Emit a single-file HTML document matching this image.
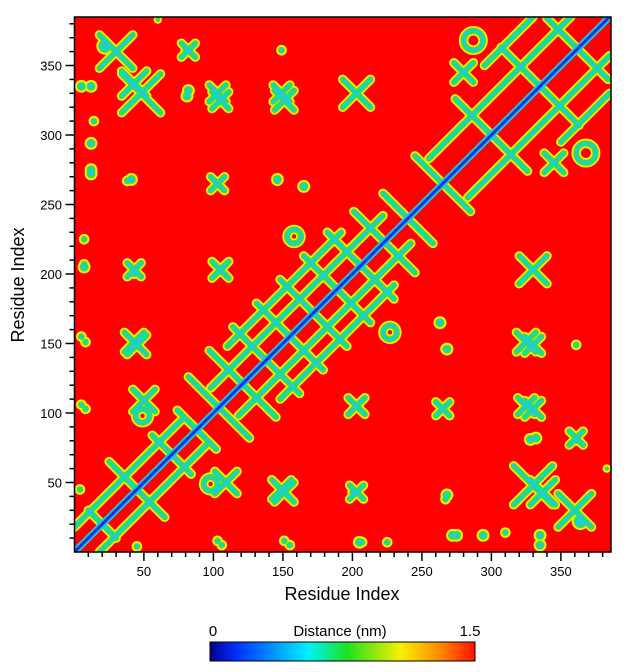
<!DOCTYPE html>
<html><head><meta charset="utf-8"><style>
html,body{margin:0;padding:0;background:#fff;}
svg{display:block;font-family:"Liberation Sans",Arial,sans-serif;}
</style></head><body>
<svg id="chart" width="627" height="672" viewBox="0 0 627 672">
<defs>
<clipPath id="plotclip"><rect x="74.5" y="17" width="536.5" height="535"/></clipPath>
<linearGradient id="jet" x1="0" x2="1" y1="0" y2="0">
<stop offset="0" stop-color="#00008f"/><stop offset="0.1" stop-color="#0030ff"/>
<stop offset="0.37" stop-color="#00f0ff"/><stop offset="0.52" stop-color="#20e020"/>
<stop offset="0.72" stop-color="#f8f000"/><stop offset="0.88" stop-color="#ff8000"/>
<stop offset="1" stop-color="#ff1000"/></linearGradient>
</defs>
<g id="plot" clip-path="url(#plotclip)">
<rect x="74.5" y="17" width="536.5" height="535" fill="#ff0000"/>
</g>
<g id="axes"></g>
<text x="342" y="600" font-size="18" text-anchor="middle">Residue Index</text>
<text x="0" y="0" font-size="18" text-anchor="middle" transform="translate(24,285) rotate(-90)">Residue Index</text>
<rect x="210" y="642" width="265" height="19" fill="url(#jet)" stroke="#000" stroke-width="1"/>
<text x="213" y="636" font-size="15" text-anchor="middle">0</text>
<text x="340" y="636" font-size="15" text-anchor="middle">Distance (nm)</text>
<text x="470" y="636" font-size="15" text-anchor="middle">1.5</text>
</svg>
<script>
var maxResidue = 385;
var tickValues = [50,100,150,200,250,300,350];
var crossX = [43,43,109,149,203,345,330,325,325,203,265,103,149,82,43,105,30];
var crossY = [337,151,50,45,330,280,48,151,105,105,103,330,330,361,203,203,360];
var crossS = [9,7,8,7,10,7,14,7,6,6,5,6,6,5,5,5,12];
var blobX = [5,5,151,103,5,14,12,12,38,82,149,165,146,7,268,263,361,328,361,201,268,364,335,272,294,205,225,383,4];
var blobY = [155,106,8,8,335,310,294,275,267,332,361,263,267,207,146,165,149,81,81,43,41,22,12,12,12,7,7,60,45];
var blobR = [3,3,3,3,4,3,3,4,3,4,3,4,3,3,4,4,2,4,4,4,4,6,4,4,4,4,3,2,3];
var ringX = [98,368,227];
var ringY = [49,287,158];
var ringR = [5,7,5];
var antiC = [20,45,70,88,104,121,138,155,172,189,206,223,240,265,300,335,362];
var antiL = [10,20,14,14,22,24,24,24,24,24,24,22,18,20,26,28,22];
var bandOff = [18,20,38,28,55];
var bandFrom = [0,98,110,255,295];
var bandTo = [95,242,230,385,385];

var NS='http://www.w3.org/2000/svg';
var X0=74.4, Y0=552, K=1.39;
function sx(r){return X0+r*K;}
function sy(r){return Y0-r*K;}
function mk(tag,attrs,parent){var e=document.createElementNS(NS,tag);for(var a in attrs)e.setAttribute(a,attrs[a]);parent.appendChild(e);return e;}
var plot=document.getElementById('plot');
var layers=[{c:'#eef000',w:9.5,d:2},{c:'#38e040',w:6,d:0},{c:'#20d0c8',w:3,d:-1.5}];
layers.forEach(function(L,li){
  var g=mk('g',{},plot);
  
  
  function line(a,b,c,d){var e=mk('line',{x1:sx(a),y1:sy(b),x2:sx(c),y2:sy(d),stroke:L.c,'stroke-width':L.w,'stroke-linecap':'round'},g);
    
    }
  for(var i=0;i<crossX.length;i++){
    [[crossX[i],crossY[i]],[crossY[i],crossX[i]]].forEach(function(p){var s=crossS[i];
      line(p[0]-s,p[1]-s,p[0]+s,p[1]+s);line(p[0]-s,p[1]+s,p[0]+s,p[1]-s);});
  }
  for(var i=0;i<blobX.length;i++){
    [[blobX[i],blobY[i]],[blobY[i],blobX[i]]].forEach(function(p){
      var e=mk('circle',{cx:sx(p[0]),cy:sy(p[1]),r:Math.max(0.5,blobR[i]*K*0.8+L.d),fill:L.c},g);
      
      });
  }
  for(var i=0;i<ringX.length;i++){
    [[ringX[i],ringY[i]],[ringY[i],ringX[i]]].forEach(function(p){
      var e=mk('circle',{cx:sx(p[0]),cy:sy(p[1]),r:ringR[i]*K,fill:'none',stroke:L.c,'stroke-width':L.w},g);
      
      });
  }
  for(var i=0;i<antiC.length;i++){var c=antiC[i],l=antiL[i];line(c-l,c+l,c+l,c-l);}
  for(var i=0;i<bandOff.length;i++){var o=bandOff[i];
    line(bandFrom[i],bandFrom[i]+o,bandTo[i]-o,bandTo[i]);
    line(bandFrom[i]+o,bandFrom[i],bandTo[i],bandTo[i]-o);}
});
var dg=mk('g',{},plot);


mk('line',{x1:sx(0),y1:sy(0),x2:sx(maxResidue),y2:sy(maxResidue),stroke:'#20c0e0','stroke-width':7},dg);
mk('line',{x1:sx(0),y1:sy(0),x2:sx(maxResidue),y2:sy(maxResidue),stroke:'#1038d8','stroke-width':3},dg);

var ax=document.getElementById('axes');
var fr=mk('rect',{x:74.5,y:17,width:536.5,height:535,fill:'none',stroke:'#000','stroke-width':1.5},ax);


for(var r=10;r<maxResidue;r+=10){
  var major=(r%50===0), len=major?9:5;
  var t1=mk('line',{x1:sx(r),y1:552,x2:sx(r),y2:552+len,stroke:'#000','stroke-width':1.5},ax);
  
  
  var t2=mk('line',{x1:74.5,y1:sy(r),x2:74.5-len,y2:sy(r),stroke:'#000','stroke-width':1.5},ax);
  
  
}
tickValues.forEach(function(v){
  var a=mk('text',{x:sx(v),y:576,'font-size':13,'text-anchor':'middle'},ax);a.textContent=v;
  
  
  var b=mk('text',{x:62,y:sy(v)+5,'font-size':13,'text-anchor':'end'},ax);b.textContent=v;
  
  
});
</script>
</body></html>
